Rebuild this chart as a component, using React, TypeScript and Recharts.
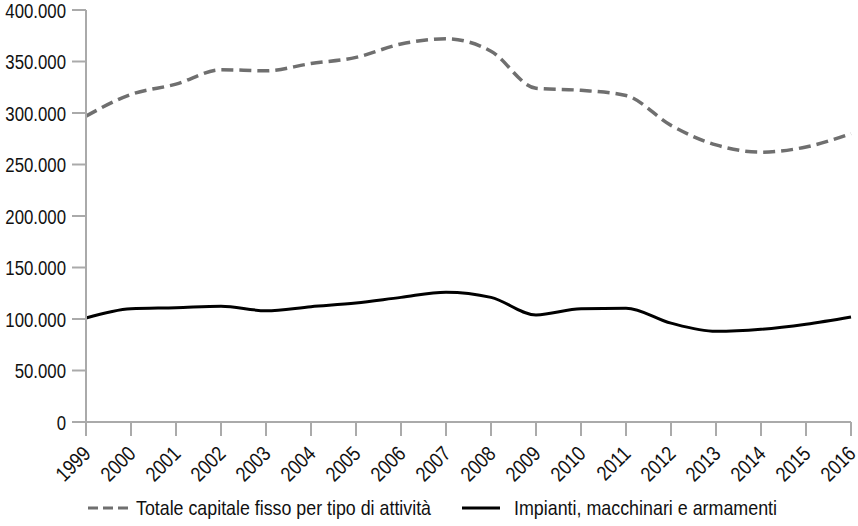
import React from 'react';
import { LineChart, Line, XAxis, YAxis, Legend } from 'recharts';

const years = ['1999','2000','2001','2002','2003','2004','2005','2006','2007','2008','2009','2010','2011','2012','2013','2014','2015','2016'];
const totale = [297000,318000,328000,342000,341000,348000,354000,367000,372000,360000,324000,322000,317000,288000,269000,262000,267000,280000];
const impianti = [101000,110000,111000,112500,108000,112000,115500,121000,126000,121000,104000,110000,110500,96000,88000,90000,95000,102000];
const yTicks = [0,50000,100000,150000,200000,250000,300000,350000,400000];

const NAME_A = 'Totale capitale fisso per tipo di attività';
const NAME_B = 'Impianti, macchinari e armamenti';

const data = years.map((y, i) => ({ year: y, a: totale[i], b: impianti[i] }));

const FONT = "'Liberation Sans', Arial, sans-serif";

const fmt = (v: number) => (v === 0 ? '0' : String(v).replace(/\B(?=(\d{3})+(?!\d))/g, '.'));

const XTick = (props: any) => {
  const { x, y, payload } = props;
  return (
    <g transform={`translate(${x + 1},${y + 12}) rotate(-45) scale(0.84,1)`}>
      <text textAnchor="end" dy={7} fontSize={21} fill="#111" fontFamily={FONT}>
        {payload.value}
      </text>
    </g>
  );
};

const YTick = (props: any) => {
  const { x, y, payload } = props;
  return (
    <g transform={`translate(${x - 4},${y}) scale(0.8,1)`}>
      <text textAnchor="end" dy={7.5} fontSize={21} fill="#111" fontFamily={FONT}>
        {fmt(payload.value)}
      </text>
    </g>
  );
};

const LegendContent = () => (
  <svg width={858} height={34} style={{ display: 'block' }}>
    <line x1={88} y1={16} x2={128} y2={16} stroke="#6f6f6f" strokeWidth={3} strokeDasharray="10 5" />
    <text x={136} y={23} fontSize={21} fontFamily={FONT} fill="#111" textLength={295} lengthAdjust="spacingAndGlyphs">{NAME_A}</text>
    <line x1={462} y1={16} x2={500} y2={16} stroke="#000" strokeWidth={3} />
    <text x={514} y={23} fontSize={21} fontFamily={FONT} fill="#111" textLength={263} lengthAdjust="spacingAndGlyphs">{NAME_B}</text>
  </svg>
);

export default function App() {
  return (
    <div style={{ position: 'absolute', left: 0, top: 0, background: '#fff' }}>
      <LineChart width={858} height={526} data={data} margin={{ top: 10, right: 7, left: 0, bottom: 0 }}>
        <XAxis
          dataKey="year"
          interval={0}
          tick={<XTick />}
          tickLine={{ stroke: '#aaa', strokeWidth: 2 }}
          tickSize={14}
          axisLine={{ stroke: '#aaa', strokeWidth: 2 }}
          height={70}
        />
        <YAxis
          domain={[0, 400000]}
          ticks={yTicks}
          width={86}
          tick={<YTick />}
          tickLine={{ stroke: '#aaa', strokeWidth: 2 }}
          tickSize={14}
          axisLine={{ stroke: '#aaa', strokeWidth: 2 }}
        />
        <Legend verticalAlign="bottom" height={34} content={<LegendContent />} />
        <Line type="monotone" dataKey="a" name={NAME_A} stroke="#6f6f6f" strokeWidth={3.5} strokeDasharray="12 6" dot={false} isAnimationActive={false} />
        <Line type="monotone" dataKey="b" name={NAME_B} stroke="#000" strokeWidth={3} dot={false} isAnimationActive={false} />
      </LineChart>
    </div>
  );
}
